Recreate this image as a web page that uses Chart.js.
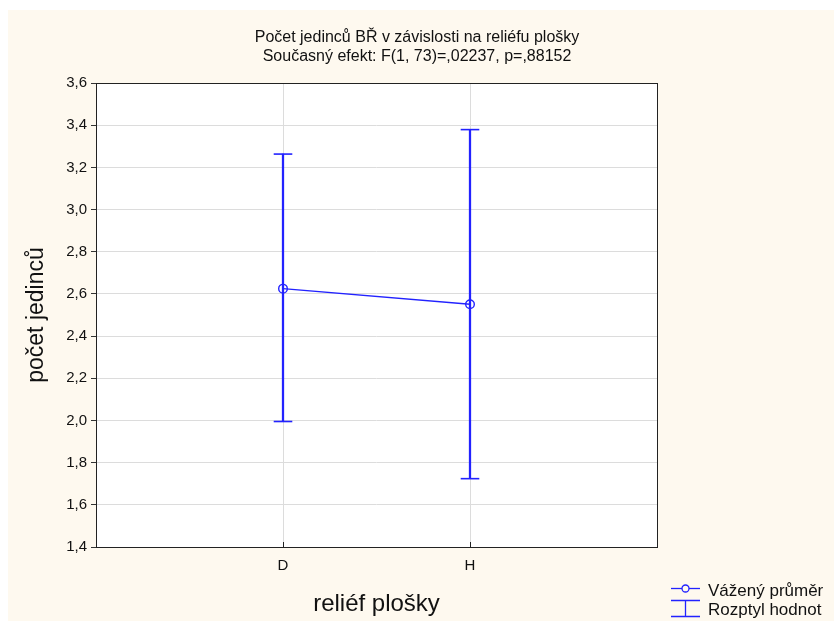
<!DOCTYPE html>
<html>
<head>
<meta charset="utf-8">
<script src="https://cdn.jsdelivr.net/npm/chart.js@4/dist/chart.umd.min.js"></script>
<style>
  html, body { margin: 0; padding: 0; background: #ffffff; }
  #wrap { width: 834px; height: 621px; position: relative; }
</style>
</head>
<body>
<div id="wrap"><canvas id="chart"></canvas></div>
<script>
const titleLines = ['Počet jedinců BŘ v závislosti na reliéfu plošky', 'Současný efekt: F(1, 73)=,02237, p=,88152'];
const xTitle = 'reliéf plošky';
const yTitle = 'počet jedinců';
const categories = ['D', 'H'];
const means = [2.625, 2.551];
const lows = [1.995, 1.724];
const highs = [3.263, 3.379];
const yMin = 1.4;
const yMax = 3.6;
const yStep = 0.2;

const FONT = "'Liberation Sans', Arial, sans-serif";
const BLUE = '#2222ff';
const CREAM = '#fef9ef';

// positions of the categories on the x axis (1, 2, ...)
const xPos = categories.map((c, i) => i + 1);

const meanData = xPos.map((x, i) => ({ x: x, y: means[i] }));
const stemData = xPos.map((x, i) => ({ x: x, y: [lows[i], highs[i]] }));
const capData = [];
xPos.forEach((x, i) => {
  capData.push({ x: x, y: lows[i] });
  capData.push({ x: x, y: highs[i] });
});

// background: white border, cream page, white plot
const bgPlugin = {
  id: 'bg',
  beforeDraw(chart) {
    const { ctx, width, height, chartArea } = chart;
    ctx.save();
    ctx.fillStyle = '#ffffff';
    ctx.fillRect(0, 0, width, height);
    ctx.fillStyle = CREAM;
    ctx.fillRect(8, 10, width - 8, height - 10);
    ctx.fillStyle = '#ffffff';
    ctx.fillRect(chartArea.left, chartArea.top, chartArea.right - chartArea.left, chartArea.bottom - chartArea.top);
    ctx.restore();
  }
};

// frame around the plot and small inside ticks at the categories
const framePlugin = {
  id: 'frame',
  afterDatasetsDraw(chart) {
    const { ctx, chartArea } = chart;
    const xs = chart.scales.x;
    ctx.save();
    ctx.strokeStyle = '#222';
    ctx.lineWidth = 1;
    ctx.strokeRect(Math.round(chartArea.left) + 0.5, Math.round(chartArea.top) + 0.5,
      Math.round(chartArea.right - chartArea.left), Math.round(chartArea.bottom - chartArea.top));
    ctx.beginPath();
    xPos.forEach(v => {
      const px = Math.round(xs.getPixelForValue(v)) + 0.5;
      ctx.moveTo(px, chartArea.bottom);
      ctx.lineTo(px, chartArea.bottom - 5);
    });
    ctx.stroke();
    ctx.restore();
  }
};

// legend in the lower right corner
const legendPlugin = {
  id: 'customLegend',
  afterDraw(chart) {
    const { ctx } = chart;
    const ds = chart.data.datasets;
    const x0 = 671, x1 = 700, xc = 685.5, tx = 708;
    ctx.save();
    ctx.strokeStyle = BLUE;
    ctx.lineWidth = 1.3;
    // mean symbol
    ctx.beginPath();
    ctx.moveTo(x0, 588.5);
    ctx.lineTo(x1, 588.5);
    ctx.stroke();
    ctx.fillStyle = CREAM;
    ctx.beginPath();
    ctx.arc(xc, 588.5, 3.5, 0, Math.PI * 2);
    ctx.fill();
    ctx.stroke();
    // range symbol
    ctx.beginPath();
    ctx.moveTo(x0, 600.5); ctx.lineTo(x1, 600.5);
    ctx.moveTo(x0, 616.5); ctx.lineTo(x1, 616.5);
    ctx.moveTo(xc, 600.5); ctx.lineTo(xc, 616.5);
    ctx.stroke();
    ctx.fillStyle = '#111';
    ctx.font = '17px ' + FONT;
    ctx.textBaseline = 'middle';
    ctx.textAlign = 'left';
    ctx.fillText(ds[0].label, tx, 591);
    ctx.fillText(ds[1].label, tx, 610);
    ctx.restore();
  }
};

const ctx = document.getElementById('chart').getContext('2d');
const chart = new Chart(ctx, {
  type: 'line',
  data: {
    datasets: [{
      type: 'line',
      label: 'Vážený průměr',
      data: meanData,
      borderColor: BLUE,
      borderWidth: 1.4,
      pointStyle: 'circle',
      pointRadius: 4.3,
      pointBorderWidth: 1.4,
      pointBorderColor: BLUE,
      pointBackgroundColor: 'rgba(0,0,0,0)',
      order: 0
    }, {
      type: 'bar',
      label: 'Rozptyl hodnot',
      data: stemData,
      backgroundColor: BLUE,
      borderWidth: 0,
      barThickness: 1.6,
      order: 2
    }, {
      type: 'scatter',
      label: 'caps',
      data: capData,
      showLine: false,
      pointStyle: 'line',
      pointRadius: 9.3,
      pointBorderWidth: 1.6,
      pointBorderColor: BLUE,
      order: 1
    }]
  },
  options: {
    responsive: true,
    maintainAspectRatio: false,
    animation: false,
    layout: { padding: 0 },
    plugins: {
      legend: { display: false },
      tooltip: { enabled: false },
      title: {
        display: true,
        text: titleLines,
        color: '#111',
        font: { family: FONT, size: 16, weight: 'normal', lineHeight: '19px' },
        padding: { top: 28.5, bottom: 16.5 }
      }
    },
    scales: {
      x: {
        type: 'linear',
        min: 0,
        max: categories.length + 1,
        offset: false,
        afterFit: (scale) => { scale.height = 74; },
        grid: { color: '#dcdcdc', drawTicks: false, offset: false },
        border: { display: false },
        ticks: {
          stepSize: 1,
          color: '#111',
          padding: 10,
          font: { family: FONT, size: 15 },
          callback: (v) => categories[v - 1] || ''
        },
        title: {
          display: true,
          text: xTitle,
          color: '#111',
          font: { family: FONT, size: 24 },
          padding: { top: 0, bottom: 2 }
        }
      },
      y: {
        min: yMin,
        max: yMax,
        afterFit: (scale) => { scale.width = 96; },
        grid: { color: '#dcdcdc', tickLength: 5, tickColor: '#333' },
        border: { display: false },
        ticks: {
          stepSize: yStep,
          color: '#111',
          padding: 4,
          font: { family: FONT, size: 15 },
          callback: (v) => v.toFixed(1).replace('.', ',')
        },
        title: {
          display: true,
          text: yTitle,
          color: '#111',
          font: { family: FONT, size: 23 },
          padding: { top: 23, bottom: 0 }
        }
      },
      // empty scale on the right that keeps room for the legend
      yRight: {
        position: 'right',
        afterFit: (scale) => { scale.width = 177; },
        grid: { display: false },
        border: { display: false },
        ticks: { display: false }
      }
    }
  },
  plugins: [bgPlugin, framePlugin, legendPlugin]
});
</script>
</body>
</html>
